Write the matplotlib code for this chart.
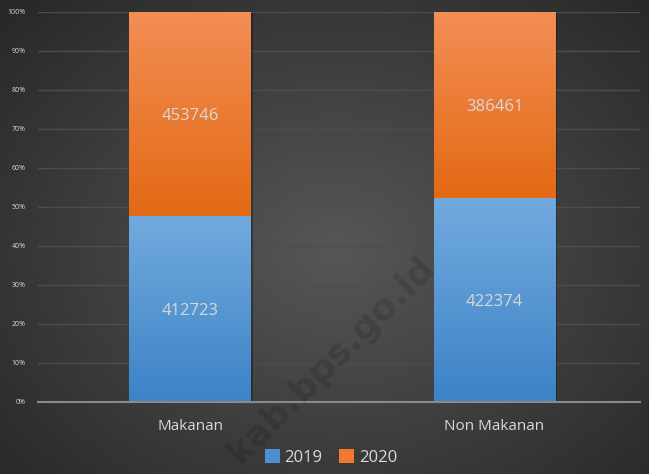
import numpy as np
import matplotlib
matplotlib.use("Agg")
import matplotlib.pyplot as plt
import matplotlib.patheffects as pe
from matplotlib.colors import LinearSegmentedColormap

# data
kategori = ["Makanan", "Non Makanan"]
tahun = ["2019", "2020"]
nilai_2019 = [412723, 422374]
nilai_2020 = [453746, 386461]

plt.rcParams['font.family'] = ['Open Sans', 'DejaVu Sans']

total = np.array(nilai_2019) + np.array(nilai_2020)
pct_2019 = np.array(nilai_2019) / total * 100
pct_2020 = np.array(nilai_2020) / total * 100

fig = plt.figure(figsize=(6.49, 4.74), dpi=100)

# latar belakang gradien radial
bg = fig.add_axes([0, 0, 1, 1], zorder=-10)
yy, xx = np.mgrid[0:474, 0:649]
r = np.sqrt(((xx - 335) / 420.0) ** 2 + ((yy - 250) / 330.0) ** 2)
level = np.clip(0.34 - 0.17 * r, 0.16, 0.34)
bg.imshow(np.dstack([level, level, level]), extent=(0, 1, 0, 1), aspect='auto')
bg.set_axis_off()

ax = fig.add_axes([0.0586, 0.152, 0.9274, 0.8228])
ax.patch.set_alpha(0)
x = np.arange(len(kategori))
lebar = 0.4

biru = LinearSegmentedColormap.from_list("biru", ["#3c83c7", "#72aade"])
oranye = LinearSegmentedColormap.from_list("oranye", ["#e36914", "#f38e55"])

bayangan = [pe.SimplePatchShadow(offset=(1.5, -1), alpha=0.3, shadow_rgbFace='black'), pe.Normal()]
b1 = ax.bar(x, pct_2019, lebar, color="#4a90d2", label=tahun[0], zorder=3, path_effects=bayangan)
b2 = ax.bar(x, pct_2020, lebar, bottom=pct_2019, color="#ef7a2e", label=tahun[1], zorder=3, path_effects=bayangan)

grad = np.linspace(0, 1, 256).reshape(-1, 1)
for bars, cmap in [(b1, biru), (b2, oranye)]:
    for bar in bars:
        x0, y0 = bar.get_x(), bar.get_y()
        im = ax.imshow(grad, cmap=cmap, origin='lower', aspect='auto', zorder=4,
                       extent=(x0, x0 + bar.get_width(), y0, y0 + bar.get_height()))
        im.set_clip_path(bar)

for bars, vals in [(b1, nilai_2019), (b2, nilai_2020)]:
    for bar, v in zip(bars, vals):
        ax.text(bar.get_x() + bar.get_width() / 2, bar.get_y() + bar.get_height() / 2, str(v),
                ha='center', va='center_baseline', color='#d9d9d9', fontsize=12, zorder=5)

# watermark
fig.text(0.51, 0.24, "kab.bps.go.id", rotation=45, ha='center', va='center',
         fontsize=26, fontweight='bold', family='DejaVu Sans', color='black', alpha=0.13, zorder=10)

ax.set_xlim(-0.5, 1.478)
ax.set_ylim(0, 100)
ax.set_yticks(np.arange(0, 101, 10))
ax.set_yticklabels([f"{t}%" for t in range(0, 101, 10)])
ax.set_xticks(x)
ax.set_xticklabels(kategori)
ax.tick_params(axis='y', length=0, labelsize=5, labelcolor='#d9d9d9', pad=9)
ax.tick_params(axis='x', length=0, labelsize=11, labelcolor='#d9d9d9', pad=12)
ax.grid(axis='y', color='#4d4d4d', linewidth=1, zorder=0)
ax.set_axisbelow(True)
for s in ['top', 'right', 'left']:
    ax.spines[s].set_visible(False)
ax.spines['bottom'].set_color('#8a8a8a')
ax.spines['bottom'].set_linewidth(1.5)
ax.spines['bottom'].set_zorder(6)

leg = fig.legend(handles=[b1, b2], labels=tahun, loc='center', bbox_to_anchor=(0.51, 0.035),
                 ncol=2, frameon=False, fontsize=12, handlelength=0.9, handleheight=0.9,
                 handletextpad=0.3, columnspacing=1.0, labelcolor='#d9d9d9')
for h in leg.legend_handles:
    h.set_path_effects([])

fig.savefig("out.png", dpi=100)
